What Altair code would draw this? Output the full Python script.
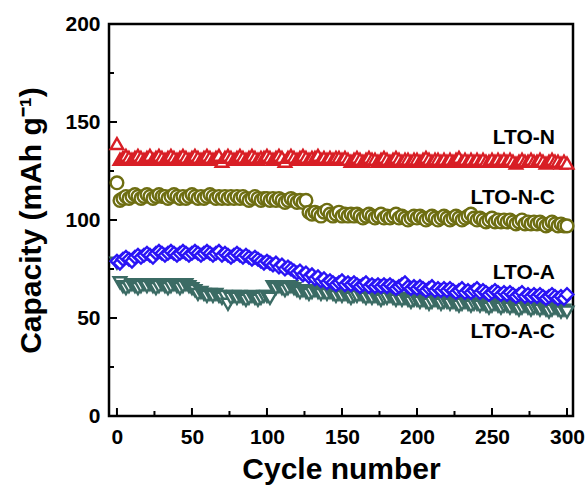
import altair as alt
import pandas as pd

# cycle numbers sampled every 2 cycles
cycles = list(range(0, 301, 2))

lto_n = [139, 131, 132, 133, 132, 131, 132, 133, 132, 131,
         132, 133, 131, 132, 133, 132, 131, 132, 133, 132,
         131, 132, 133, 132, 131, 132, 133, 132, 131, 132,
         133, 132, 131, 132, 133, 130, 132, 133, 132, 131,
         132, 133, 132, 131, 132, 133, 132, 131, 132, 132,
         133, 132, 131, 132, 133, 132, 130, 132, 133, 132,
         131, 132, 133, 132, 131, 132, 132, 133, 131, 132,
         131, 132, 131, 132, 132, 131, 132, 131, 130, 131,
         132, 131, 130, 131, 132, 131, 131, 130, 131, 132,
         131, 130, 131, 132, 131, 130, 131, 131, 130, 131,
         131, 130, 131, 132, 131, 130, 131, 131, 130, 131,
         130, 131, 130, 131, 132, 130, 131, 130, 131, 130,
         131, 130, 131, 130, 130, 131, 130, 131, 130, 131,
         130, 131, 130, 129, 130, 131, 130, 130, 131, 130,
         130, 131, 130, 129, 130, 131, 130, 130, 129, 130,
         129]

lto_nc = [119, 110, 111, 112, 111, 112, 113, 112, 111, 112,
          113, 112, 111, 112, 113, 112, 112, 111, 112, 113,
          112, 111, 112, 111, 112, 113, 112, 111, 112, 111,
          112, 113, 112, 111, 112, 111, 112, 111, 112, 111,
          112, 111, 112, 111, 110, 111, 112, 111, 110, 111,
          111, 110, 111, 110, 111, 110, 109, 110, 111, 110,
          109, 110, 109, 110, 104, 103, 104, 103, 102, 104,
          105, 103, 102, 103, 104, 102, 103, 102, 103, 102,
          103, 102, 101, 102, 103, 102, 101, 102, 103, 101,
          102, 101, 102, 103, 101, 102, 101, 100, 101, 102,
          101, 102, 101, 100, 101, 102, 101, 100, 101, 102,
          101, 100, 101, 102, 101, 100, 101, 102, 103, 101,
          100, 101, 100, 99, 100, 101, 99, 100, 99, 100,
          99, 100, 99, 98, 99, 100, 98, 99, 98, 99,
          98, 99, 98, 97, 98, 99, 98, 97, 98, 97,
          97]

lto_a = [79, 78, 80, 81, 80, 79, 81, 82, 81, 82,
         83, 82, 81, 83, 84, 83, 82, 83, 84, 83,
         82, 83, 84, 83, 82, 83, 84, 83, 82, 83,
         84, 83, 82, 83, 84, 82, 83, 82, 81, 82,
         83, 82, 81, 82, 81, 80, 81, 80, 79, 78,
         79, 78, 77, 78, 76, 77, 75, 76, 75, 74,
         73, 74, 72, 73, 71, 72, 70, 71, 69, 70,
         68, 69, 68, 67, 68, 69, 67, 68, 67, 68,
         67, 66, 67, 68, 66, 67, 66, 67, 66, 67,
         66, 67, 66, 65, 66, 67, 68, 66, 65, 66,
         65, 66, 65, 64, 65, 66, 64, 65, 64, 65,
         64, 65, 64, 63, 64, 65, 63, 64, 63, 64,
         65, 63, 64, 63, 62, 63, 64, 63, 62, 63,
         62, 63, 62, 61, 62, 63, 61, 62, 61, 62,
         61, 62, 61, 60, 61, 62, 61, 60, 61, 60,
         62]

lto_ac = [78, 68, 66, 65, 66, 67, 66, 65, 66, 67,
          66, 67, 66, 65, 66, 67, 66, 65, 66, 67,
          66, 65, 66, 67, 66, 65, 64, 62, 63, 62,
          61, 62, 61, 62, 61, 60, 61, 57, 60, 61,
          60, 61, 60, 59, 60, 61, 60, 59, 60, 61,
          61, 60, 66, 65, 66, 65, 64, 65, 66, 65,
          64, 63, 64, 63, 62, 63, 64, 63, 62, 63,
          62, 63, 62, 61, 62, 61, 62, 61, 60, 61,
          61, 62, 61, 60, 61, 60, 61, 60, 59, 60,
          60, 61, 60, 59, 60, 59, 60, 59, 58, 59,
          59, 58, 59, 58, 57, 58, 59, 58, 57, 58,
          58, 57, 58, 57, 56, 57, 58, 57, 56, 57,
          57, 56, 57, 56, 55, 56, 57, 56, 55, 56,
          56, 55, 56, 55, 54, 55, 56, 55, 54, 55,
          55, 54, 55, 54, 53, 54, 55, 54, 53, 54,
          53]

label_names = ["LTO-N", "LTO-N-C", "LTO-A", "LTO-A-C"]
label_x = [292, 292, 292, 292]
label_y = [142, 111, 73, 43]

y_major = [0, 50, 100, 150, 200]
y_minor = [25, 75, 125, 175]
x_major = [0, 50, 100, 150, 200, 250, 300]
x_minor = [25, 75, 125, 175, 225, 275]

FONT = "Liberation Sans"
W, H = 464, 392

xs = alt.Scale(domain=[-5.3, 304], nice=False, zero=False)
ys = alt.Scale(domain=[0, 200], nice=False)

x_axis = alt.Axis(values=x_major, ticks=False, domain=False, grid=False,
                  labelFont=FONT, labelFontWeight="bold", labelFontSize=21,
                  labelColor="black", labelPadding=10,
                  title="Cycle number", titleFont=FONT, titleFontWeight="bold",
                  titleFontSize=30, titleColor="black",
                  titleX=W / 2, titleY=62, titleAlign="center",
                  titleBaseline="alphabetic")
y_axis = alt.Axis(values=y_major, ticks=False, domain=False, grid=False,
                  labelFont=FONT, labelFontWeight="bold", labelFontSize=21,
                  labelColor="black", labelPadding=9,
                  title="Capacity (mAh g⁻¹)", titleFont=FONT,
                  titleFontWeight="bold", titleFontSize=30, titleColor="black",
                  titleX=-78, titleY=H / 2, titleAngle=270, titleAlign="center",
                  titleBaseline="middle")


def series(vals, shape, color):
    df = pd.DataFrame({"cycle": cycles, "cap": vals})
    return alt.Chart(df).mark_point(
        shape=shape, filled=False, fill="white", fillOpacity=1,
        stroke=color, strokeWidth=2.4, size=160, opacity=1
    ).encode(
        x=alt.X("cycle:Q", scale=xs, axis=x_axis),
        y=alt.Y("cap:Q", scale=ys, axis=y_axis),
    )


red = series(lto_n, "triangle-up", "#d81e25")
olive = series(lto_nc, "circle", "#6e6e12")
teal = series(lto_ac, "triangle-down", "#3b6b64")
blue = series(lto_a, "diamond", "#2a14f5")

labels_df = pd.DataFrame({"name": label_names, "x": label_x, "y": label_y})
labels = alt.Chart(labels_df).mark_text(
    align="right", baseline="middle", font=FONT, fontWeight="bold",
    fontSize=21, color="black"
).encode(x=alt.X("x:Q", scale=xs), y=alt.Y("y:Q", scale=ys), text="name:N")

ytm = alt.Chart(pd.DataFrame({"v": y_major})).mark_rule(
    color="black", strokeWidth=2).encode(
    y=alt.Y("v:Q", scale=ys), x=alt.value(0), x2=alt.value(8))
ytn = alt.Chart(pd.DataFrame({"v": y_minor})).mark_rule(
    color="black", strokeWidth=2).encode(
    y=alt.Y("v:Q", scale=ys), x=alt.value(0), x2=alt.value(5))
xtm = alt.Chart(pd.DataFrame({"v": x_major})).mark_rule(
    color="black", strokeWidth=2).encode(
    x=alt.X("v:Q", scale=xs), y=alt.value(H), y2=alt.value(H - 8))
xtn = alt.Chart(pd.DataFrame({"v": x_minor})).mark_rule(
    color="black", strokeWidth=2).encode(
    x=alt.X("v:Q", scale=xs), y=alt.value(H), y2=alt.value(H - 5))

chart = alt.layer(red, olive, teal, blue, labels, ytm, ytn, xtm, xtn).properties(
    width=W, height=H,
    autosize=alt.AutoSizeParams(type="none"),
    padding={"left": 109, "top": 24, "right": 15, "bottom": 71},
    background="white",
).configure_view(stroke="black", strokeWidth=2.5)

chart.save("out.html", embed_options={"renderer": "svg", "actions": False})
